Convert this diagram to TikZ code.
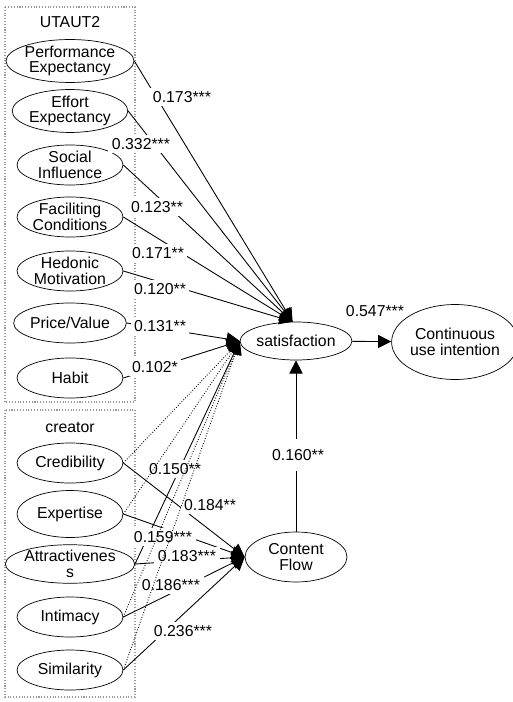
\documentclass[tikz,border=0pt]{standalone}
\usepackage{fontspec}
\setmainfont{Liberation Sans}
\usepackage{tikz}
\usetikzlibrary{shapes.geometric, arrows.meta}

\begin{document}
\begin{tikzpicture}[x=0.02cm, y=-0.02cm,
  every node/.style={font=\fontsize{9}{8.9}\selectfont},
  latent/.style={draw, ellipse, minimum width=2.12cm, minimum height=0.8cm,
    inner sep=0pt, align=center},
  coef/.style={fill=white, inner sep=2pt},
  effect/.style={-{Triangle[length=7.5pt,width=7.5pt]}, line width=0.5pt},
  nspath/.style={effect, densely dotted},
  group/.style={draw=gray!80, densely dotted, line width=0.6pt}]
  \useasboundingbox (0,0) rectangle (513,702);

  % groups
  \draw[group] (5,7) rectangle (135,402);
  \draw[group] (5,410) rectangle (135,697);
  \node (utaut) at (70,22) {UTAUT2};
  \node (creator) at (70,427) {creator};

  % UTAUT2 constructs
  \node[latent] (pe) at (70,61) {Performance\\Expectancy};
  \node[latent] (ee) at (70,111) {Effort\\Expectancy};
  \node[latent] (si) at (70,165) {Social\\Influence};
  \node[latent] (fc) at (70,217) {Faciliting\\Conditions};
  \node[latent] (hm) at (70,271) {Hedonic\\Motivation};
  \node[latent] (pv) at (70,323) {Price/Value};
  \node[latent] (hb) at (70,378) {Habit};

  % creator constructs
  \node[latent] (cr) at (70,463) {Credibility};
  \node[latent, minimum height=0.94cm] (ex) at (70,514) {Expertise};
  \node[latent, minimum height=0.76cm] (at) at (70,564) {Attractivenes\\s};
  \node[latent] (im) at (70,617) {Intimacy};
  \node[latent] (sm) at (70,670) {Similarity};

  % outcomes
  \node[latent, minimum width=2.04cm, minimum height=0.76cm] (sat) at (296,341) {satisfaction};
  \node[latent, minimum width=2.12cm, minimum height=1.5cm] (cui) at (455,342) {Continuous\\use intention};
  \node[latent, minimum width=2.04cm, minimum height=1.0cm] (cf) at (296,557) {Content\\Flow};

  % significant paths
  \foreach \src in {pe,ee,si,fc,hm}
    \draw[effect] (\src.east) -- (sat.100);
  \foreach \src in {pv,hb,at}
    \draw[effect] (\src.east) -- (sat.west);
  \foreach \src in {cr,ex,at,im,sm}
    \draw[effect] (\src.east) -- (cf.west);
  \draw[effect] (cf) -- (sat);
  \draw[effect] (sat) -- (cui);

  % coefficients
  \node[coef] (bpe) at (182,97) {0.173***};
  \node[coef] (bee) at (141,144) {0.332***};
  \node[coef] (bsi) at (157,207) {0.123**};
  \node[coef] (bfc) at (158,253) {0.171**};
  \node[coef] (bhm) at (160,289) {0.120**};
  \node[coef] (bpv) at (160,326) {0.131**};
  \node[coef] (bhb) at (155,367) {0.102*};
  \node[coef] (bat) at (175,469) {0.150**};
  \node[coef] (bcr) at (210,505) {0.184**};
  \node[coef] (bex) at (163,537) {0.159***};
  \node[coef] (bac) at (187,556) {0.183***};
  \node[coef] (bim) at (171,585) {0.186***};
  \node[coef] (bsm) at (183,631) {0.236***};
  \node[coef, inner ysep=6pt] (bcf) at (298,455) {0.160**};
  \node (bsat) at (375,311) {0.547***};

  % non-significant paths
  \foreach \src in {cr,ex,im,sm}
    \draw[nspath] (\src.east) -- (sat.west);
\end{tikzpicture}
\end{document}
